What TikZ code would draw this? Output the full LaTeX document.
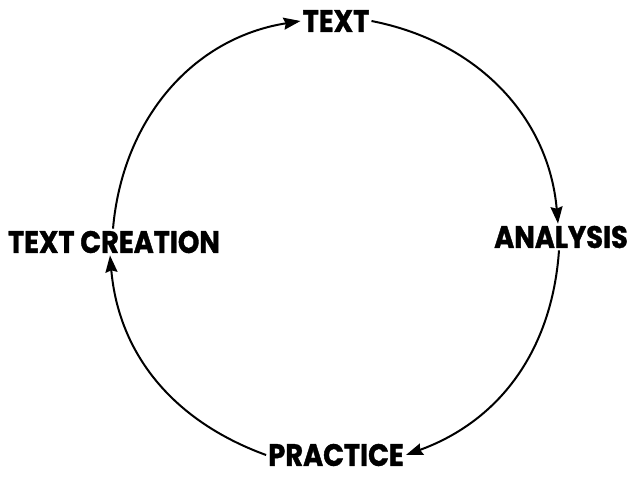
\documentclass[tikz,border=0pt]{standalone}
\usepackage{fontspec}
\setmainfont{Poppins}[BoldFeatures={FakeStretch=0.88, FakeBold=1.2}]
\usetikzlibrary{arrows.meta}
\tikzset{
  lbl/.style={font=\bfseries\fontsize{31}{31}\selectfont, inner sep=2pt},
  cyc/.style={line width=2pt, -{Stealth[length=17pt, width=12pt, inset=2pt]}}
}
\begin{document}
\begin{tikzpicture}[x=1pt, y=-1pt]
	\useasboundingbox (0,0) rectangle (634,477);
	\node[lbl] (text) at (336,21) {TEXT};
	\node[lbl] (analysis) at (561,237) {ANALYSIS};
	\node[lbl] (practice) at (336,455) {PRACTICE};
	\node[lbl] (creation) at (114,242) {TEXT CREATION};
	\draw[cyc] (text.east) to[out=-11, in=95] ([xshift=-3]analysis.north);
	\draw[cyc] ([xshift=-2]analysis.south) to[out=-94, in=20] (practice.east);
	\draw[cyc] (practice.west) to[out=160, in=-85] ([xshift=-4]creation.south);
	\draw[cyc] ([xshift=-1]creation.north) to[out=85, in=-171] (text.west);
\end{tikzpicture}
\end{document}
